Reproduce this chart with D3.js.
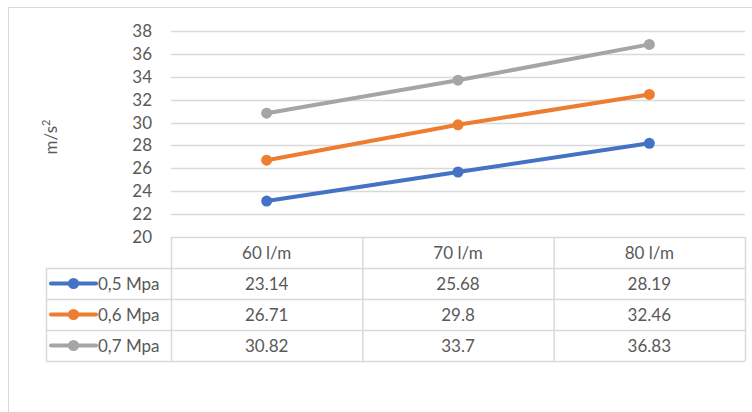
<!DOCTYPE html>
<html>
<head>
<meta charset="utf-8">
<script src="https://cdn.jsdelivr.net/npm/d3@7"></script>
<style>
  html, body { margin: 0; padding: 0; background: #fff; }
  svg { display: block; }
  text { font-family: Lato, "Open Sans", sans-serif; fill: #595959; }
</style>
</head>
<body>
<svg id="chart" width="752" height="412"></svg>
<script>
// Flow rate categories and accelerations per pressure level
const categories = ["60 l/m", "70 l/m", "80 l/m"];
const seriesNames = ["0,5 Mpa", "0,6 Mpa", "0,7 Mpa"];
const values05 = [23.14, 25.68, 28.19];
const values06 = [26.71, 29.8, 32.46];
const values07 = [30.82, 33.7, 36.83];
const yTicks = [20, 22, 24, 26, 28, 30, 32, 34, 36, 38];
const seriesColors = ["#4472C4", "#ED7D31", "#A5A5A5"];

const series = [values05, values06, values07].map((v, i) => ({
  name: seriesNames[i], values: v, color: seriesColors[i]
}));

const fs = "17px";
const svg = d3.select("#chart");
const plot = { left: 171, right: 745, top: 31, bottom: 237 };
const rowH = 31;
const labelLeft = 46;

// Outer chart frame
svg.append("rect")
  .attr("x", 8.5).attr("y", 7.5)
  .attr("width", 800).attr("height", 500)
  .attr("fill", "none").attr("stroke", "#D9D9D9");

const x = d3.scaleBand().domain(categories).range([plot.left, plot.right]).padding(0);
const y = d3.scaleLinear().domain([20, 38]).range([plot.bottom, plot.top]);

// Horizontal gridlines
svg.append("g").selectAll("line")
  .data(yTicks.filter(t => t > 20))
  .join("line")
  .attr("x1", plot.left).attr("x2", plot.right)
  .attr("y1", d => Math.round(y(d)) + 0.5).attr("y2", d => Math.round(y(d)) + 0.5)
  .attr("stroke", "#D9D9D9").attr("stroke-width", 1.5);

// Y axis labels
const yAxis = d3.axisLeft(y).tickValues(yTicks).tickSize(0).tickPadding(0).tickFormat(d3.format("d"));
const gy = svg.append("g").attr("transform", `translate(${plot.left - 19},0)`).call(yAxis);
gy.select(".domain").remove();
gy.selectAll("text")
  .style("font-family", "Lato, 'Open Sans', sans-serif")
  .style("font-size", fs).attr("fill", "#595959");

// Y axis title
const title = svg.append("text")
  .attr("transform", "translate(57,137) rotate(-90)")
  .attr("text-anchor", "middle")
  .style("font-size", fs);
title.append("tspan").text("m/s");
title.append("tspan").attr("dy", -7).style("font-size", "11px").text("2");

// Lines and markers
const line = d3.line().x((d, i) => x(categories[i]) + x.bandwidth() / 2).y(d => y(d));
series.forEach(s => {
  svg.append("path").datum(s.values)
    .attr("d", line).attr("fill", "none")
    .attr("stroke", s.color).attr("stroke-width", 4).attr("stroke-linecap", "round");
  svg.append("g").selectAll("circle").data(s.values).join("circle")
    .attr("cx", (d, i) => x(categories[i]) + x.bandwidth() / 2)
    .attr("cy", d => y(d)).attr("r", 5.5).attr("fill", s.color);
});

// Data table
const tbl = svg.append("g");
const gridColor = "#D9D9D9";
const tTop = plot.bottom;
const tBottom = tTop + rowH * 4;
// row separators
tbl.append("line").attr("x1", plot.left).attr("x2", plot.right).attr("y1", tTop + 0.5).attr("y2", tTop + 0.5).attr("stroke", gridColor).attr("stroke-width", 1.5);
for (let r = 1; r <= 4; r++) {
  tbl.append("line").attr("x1", labelLeft).attr("x2", plot.right)
    .attr("y1", tTop + r * rowH + 0.5).attr("y2", tTop + r * rowH + 0.5)
    .attr("stroke", gridColor).attr("stroke-width", 1.5);
}
// column separators
tbl.append("line").attr("x1", labelLeft + 0.5).attr("x2", labelLeft + 0.5).attr("y1", tTop + rowH).attr("y2", tBottom).attr("stroke", gridColor).attr("stroke-width", 1.5);
[plot.left, ...categories.map(c => x(c) + x.bandwidth())].forEach(xx => {
  tbl.append("line").attr("x1", xx + 0.5).attr("x2", xx + 0.5).attr("y1", tTop).attr("y2", tBottom).attr("stroke", gridColor).attr("stroke-width", 1.5);
});
// header texts
tbl.selectAll(".hdr").data(categories).join("text")
  .attr("x", d => x(d) + x.bandwidth() / 2).attr("y", tTop + rowH / 2 + 6)
  .attr("text-anchor", "middle").style("font-size", fs).text(d => d);
// series rows with legend keys
series.forEach((s, r) => {
  const cy = tTop + (r + 1) * rowH + rowH / 2;
  tbl.append("line").attr("x1", 51).attr("x2", 96).attr("y1", cy).attr("y2", cy)
    .attr("stroke", s.color).attr("stroke-width", 4).attr("stroke-linecap", "round");
  tbl.append("circle").attr("cx", 73.5).attr("cy", cy).attr("r", 5.5).attr("fill", s.color);
  tbl.append("text").attr("x", 98).attr("y", cy + 6).style("font-size", fs).text(s.name);
  tbl.append("g").selectAll("text").data(s.values).join("text")
    .attr("x", (d, i) => x(categories[i]) + x.bandwidth() / 2).attr("y", cy + 6)
    .attr("text-anchor", "middle").style("font-size", fs).text(d => d);
});
</script>
</body>
</html>
